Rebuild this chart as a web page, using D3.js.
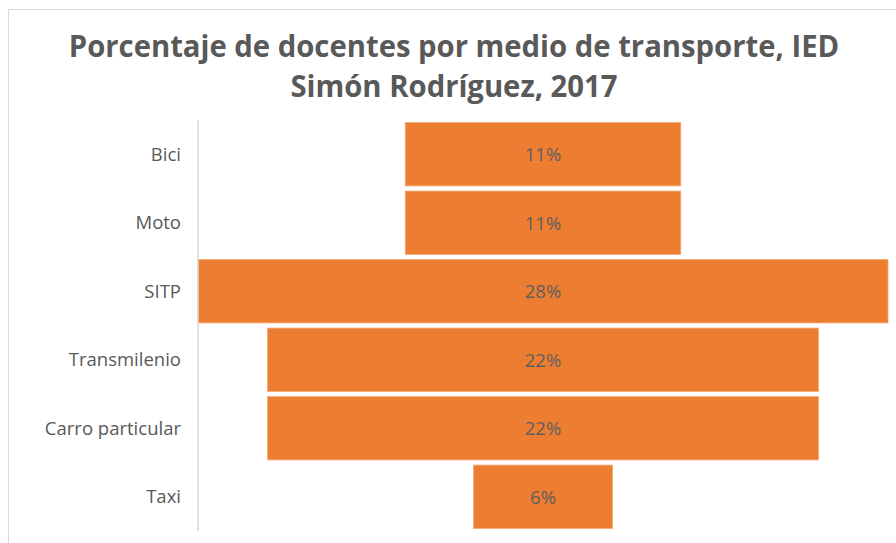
<!DOCTYPE html>
<html><head><meta charset="utf-8">
<script src="https://cdn.jsdelivr.net/npm/d3@7"></script>
<style>body{margin:0;background:#fff;}svg{display:block;}</style>
</head><body>
<script>
const categories = ["Bici","Moto","SITP","Transmilenio","Carro particular","Taxi"];
const values = [11.1, 11.1, 27.8, 22.2, 22.2, 5.6];
const valueLabels = ["11%","11%","28%","22%","22%","6%"];
const titleLines = ["Porcentaje de docentes por medio de transporte, IED","Simón Rodríguez, 2017"];

const W = 896, H = 543;
const svg = d3.select("body").append("svg").attr("width", W).attr("height", H);

svg.append("rect").attr("x", 8.5).attr("y", 9.5).attr("width", 950).attr("height", 600)
  .attr("fill", "#fff").attr("stroke", "#d9d9d9").attr("stroke-width", 1);

const pLeft = 198, pRight = 888, pTop = 120, pBottom = 531;
const cx = (pLeft + pRight) / 2;
const y = d3.scaleBand().domain(categories).range([pTop, pBottom]).paddingInner(0.075).paddingOuter(0.0375);
const w = d3.scaleLinear().domain([0, d3.max(values)]).range([0, pRight - pLeft]);

// title
const tl = svg.append("g");
titleLines.forEach((t, i) => {
  tl.append("text").text(t)
    .attr("font-family", "Open Sans, sans-serif").attr("font-weight", "bold")
    .attr("font-size", 30.5).attr("fill", "#595959").attr("text-anchor", "middle")
    .attr("transform", `translate(454,${57 + i * 39.5}) scale(0.96,1)`);
});

// bars
const data = categories.map((c, i) => ({c, v: values[i], l: valueLabels[i]}));
svg.append("g").selectAll("rect").data(data).join("rect")
  .attr("x", d => cx - w(d.v) / 2)
  .attr("y", d => y(d.c))
  .attr("width", d => w(d.v))
  .attr("height", y.bandwidth())
  .attr("fill", "#ED7D31")
  .attr("stroke", "#f4a877").attr("stroke-width", 0.8);

// value labels
svg.append("g").selectAll("text").data(data).join("text")
  .text(d => d.l)
  .attr("font-family", "Open Sans, sans-serif").attr("font-size", 18.5)
  .attr("fill", "#5f5f5f").attr("text-anchor", "middle")
  .attr("x", cx)
  .attr("y", d => y(d.c) + y.bandwidth() / 2 + 7);

// axis
const axis = svg.append("g").attr("transform", `translate(${pLeft},0)`)
  .call(d3.axisLeft(y).tickSize(0).tickPadding(17));
axis.select(".domain").attr("stroke", "#d9d9d9").attr("stroke-width", 1.5)
  .attr("d", `M0,${pTop}V${pBottom}`);
axis.selectAll(".tick text")
  .attr("font-family", "Open Sans, sans-serif").attr("font-size", 18.5)
  .attr("fill", "#595959").attr("dy", null).attr("y", 6.5);
</script>
</body></html>
